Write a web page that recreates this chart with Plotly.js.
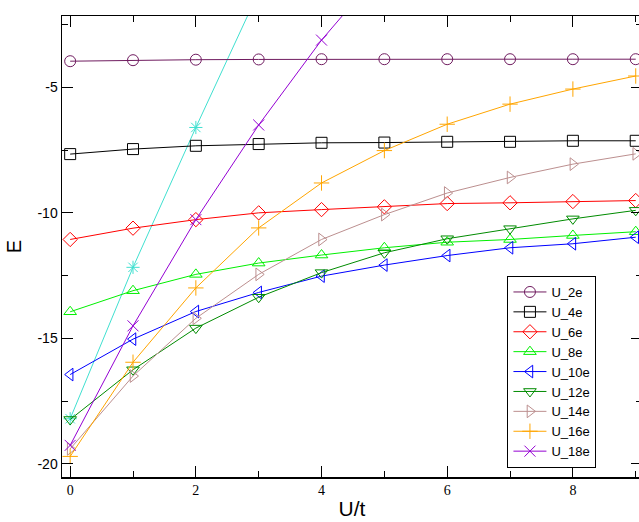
<!DOCTYPE html>
<html>
<head>
<meta charset="utf-8">
<script src="https://cdn.plot.ly/plotly-3.0.1.min.js"></script>
<style>
html, body { margin: 0; padding: 0; overflow: hidden; background: #fff; }
#chart { width: 642px; height: 522px; }
</style>
</head>
<body>
<div id="chart"></div>
<script>
var x = [0, 1, 2, 3, 4, 5, 6, 7, 8, 9];
var U_2e  = [-3.96, -3.92, -3.90, -3.89, -3.88, -3.88, -3.88, -3.88, -3.88, -3.88];
var U_4e  = [-7.66, -7.46, -7.33, -7.26, -7.21, -7.20, -7.17, -7.17, -7.13, -7.13];
var U_6e  = [-11.06, -10.61, -10.27, -10.00, -9.87, -9.76, -9.63, -9.60, -9.55, -9.51];
var U_8e  = [-13.94, -13.10, -12.45, -12.00, -11.68, -11.39, -11.17, -11.06, -10.90, -10.75];
var U_10e = [-16.44, -15.03, -13.93, -13.17, -12.52, -12.08, -11.70, -11.39, -11.23, -10.97];
var U_12e = [-18.23, -16.25, -14.59, -13.36, -12.38, -11.59, -11.03, -10.63, -10.24, -9.90];
var U_14e = [-19.40, -16.50, -14.20, -12.45, -11.06, -10.07, -9.21, -8.59, -8.06, -7.65];
var U_16e = [-19.70, -15.95, -12.99, -10.60, -8.81, -7.52, -6.47, -5.67, -5.07, -4.55];
var U_18e = [-19.26, -14.50, -10.27, -6.50, -3.12, -0.20];
var U_extra = [-18.20, -12.17, -6.60, -1.20];
var xTickVals = [0, 2, 4, 6, 8];
var yTickVals = [-20, -15, -10, -5];

var specs = [
  {name: 'U_extra', y: U_extra, color: '#40e0d0', symbol: 'asterisk-open', legend: false},
  {name: 'U_2e',  y: U_2e,  color: '#701c60', symbol: 'circle-open'},
  {name: 'U_4e',  y: U_4e,  color: '#000000', symbol: 'square-open'},
  {name: 'U_6e',  y: U_6e,  color: '#ff0000', symbol: 'diamond-open'},
  {name: 'U_8e',  y: U_8e,  color: '#00f000', symbol: 'triangle-up-open'},
  {name: 'U_10e', y: U_10e, color: '#0000ff', symbol: 'triangle-left-open'},
  {name: 'U_12e', y: U_12e, color: '#008b00', symbol: 'triangle-down-open'},
  {name: 'U_14e', y: U_14e, color: '#bc8f8f', symbol: 'triangle-right-open'},
  {name: 'U_16e', y: U_16e, color: '#ffa500', symbol: 'cross-thin-open'},
  {name: 'U_18e', y: U_18e, color: '#9400d3', symbol: 'x-thin-open'}
];

var traces = specs.map(function (s) {
  return {
    type: 'scatter', mode: 'lines+markers', name: s.name,
    x: x.slice(0, s.y.length), y: s.y,
    showlegend: s.legend !== false,
    line: {color: s.color, width: 1},
    marker: {symbol: s.symbol, size: 11, color: s.color, line: {color: s.color, width: 1}},
    cliponaxis: true
  };
});

var layout = {
  width: 642, height: 522,
  margin: {l: 62, r: 0, t: 16, b: 45},
  paper_bgcolor: '#ffffff', plot_bgcolor: '#ffffff',
  showlegend: true,
  legend: {
    x: 0.768, y: 0.436, xanchor: 'left', yanchor: 'top',
    bgcolor: '#ffffff', bordercolor: '#000000', borderwidth: 1,
    font: {family: 'Liberation Sans, Arial, sans-serif', size: 13, color: '#000'},
    traceorder: 'normal', tracegroupgap: 0, itemwidth: 33
  },
  xaxis: {
    range: [-0.13, 9.1], autorange: false,
    tickmode: 'array', tickvals: xTickVals, ticktext: xTickVals.map(String),
    ticks: 'inside', ticklen: 11, tickwidth: 1, tickcolor: '#000',
    minor: {dtick: 1, tick0: 0, ticks: 'inside', ticklen: 6, tickwidth: 1, tickcolor: '#000', showgrid: false},
    showline: true, linecolor: '#000', linewidth: 1.5, mirror: 'ticks',
    showgrid: false, zeroline: false,
    tickfont: {family: 'Liberation Serif, Times New Roman, serif', size: 14, color: '#000'},
    title: {text: 'U/t', font: {family: 'Liberation Sans, Arial, sans-serif', size: 21, color: '#000'}, standoff: 4}
  },
  yaxis: {
    range: [-20.52, -2.16], autorange: false,
    tickmode: 'array', tickvals: yTickVals, ticktext: yTickVals.map(String),
    ticks: 'inside', ticklen: 11, tickwidth: 1, tickcolor: '#000',
    minor: {dtick: 2.5, tick0: 0, ticks: 'inside', ticklen: 6, tickwidth: 1, tickcolor: '#000', showgrid: false},
    showline: true, linecolor: '#000', linewidth: 1.5, mirror: 'ticks',
    showgrid: false, zeroline: false,
    tickfont: {family: 'Liberation Sans, Arial, sans-serif', size: 14, color: '#000'},
    title: {text: 'E', font: {family: 'Liberation Sans, Arial, sans-serif', size: 20, color: '#000'}, standoff: 10}
  }
};

Plotly.newPlot('chart', traces, layout, {displayModeBar: false, staticPlot: true});
</script>
</body>
</html>
